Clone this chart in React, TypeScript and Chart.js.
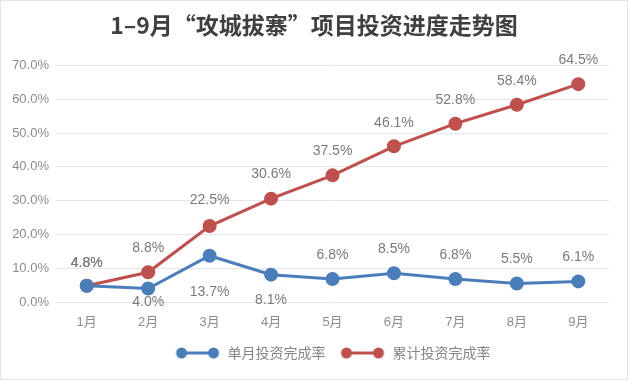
import React, { useEffect, useRef } from 'react';
import { Chart, registerables } from 'chart.js';

Chart.register(...registerables);

const months = ['1月', '2月', '3月', '4月', '5月', '6月', '7月', '8月', '9月'];
const monthlyRate = [4.8, 4.0, 13.7, 8.1, 6.8, 8.5, 6.8, 5.5, 6.1];
const cumulativeRate = [4.8, 8.8, 22.5, 30.6, 37.5, 46.1, 52.8, 58.4, 64.5];
const seriesNames = ['单月投资完成率', '累计投资完成率'];
const titleText = '1–9月“攻城拔寨”项目投资进度走势图';
const yMin = 0;
const yMax = 70;
const yStep = 10;

// label vertical offsets (style): negative = above point, positive = below
const monthlyLabelOffset = [-23, 14, 36, 25, -24, -24, -24, -24, -24];
const cumulativeLabelOffset = [-23, -24, -26, -25, -24, -23, -24, -24, -24];

const BLUE = '#4a7ebb';
const RED = '#c0504d';
const NUM_FONT = "'Liberation Sans Narrow', 'Liberation Sans', Arial, 'Noto Sans CJK SC', sans-serif";
const CJK_FONT = "'Noto Sans CJK SC', sans-serif";

function legendImage(color: string) {
  const c = document.createElement('canvas');
  c.width = 46;
  c.height = 14;
  const ctx = c.getContext('2d')!;
  ctx.strokeStyle = color;
  ctx.lineWidth = 3;
  ctx.beginPath();
  ctx.moveTo(7, 7);
  ctx.lineTo(39, 7);
  ctx.stroke();
  ctx.fillStyle = color;
  [7, 39].forEach((x) => {
    ctx.beginPath();
    ctx.arc(x, 7, 5.5, 0, Math.PI * 2);
    ctx.fill();
  });
  return c;
}

const labelPlugin = {
  id: 'valueLabels',
  afterDatasetsDraw(chart: any) {
    const ctx = chart.ctx;
    const offsets = [monthlyLabelOffset, cumulativeLabelOffset];
    ctx.save();
    ctx.font = "14px 'Liberation Sans', Arial, sans-serif";
    ctx.fillStyle = '#7a7a7a';
    ctx.textAlign = 'center';
    ctx.textBaseline = 'middle';
    chart.data.datasets.forEach((ds: any, di: number) => {
      const meta = chart.getDatasetMeta(di);
      meta.data.forEach((pt: any, i: number) => {
        const v = ds.data[i] as number;
        ctx.fillText(v.toFixed(1) + '%', pt.x, pt.y + offsets[di][i]);
      });
    });
    ctx.restore();
  },
};

const framePlugin = {
  id: 'frame',
  afterLayout(chart: any) {
    // nudge the title so it is centred on the full canvas like the reference
    if (chart.titleBlock) {
      chart.titleBlock.left += 9.5;
      chart.titleBlock.right += 9.5;
    }
  },
  beforeDraw(chart: any) {
    const ctx = chart.ctx;
    ctx.save();
    ctx.fillStyle = '#ffffff';
    ctx.fillRect(0, 0, chart.width, chart.height);
    ctx.strokeStyle = '#e4e4e4';
    ctx.lineWidth = 1;
    ctx.strokeRect(0.5, 0.5, chart.width - 1, chart.height - 1);
    ctx.restore();
  },
};

export default function App() {
  const ref = useRef<HTMLCanvasElement>(null);
  useEffect(() => {
    document.body.style.margin = '0';
    const images = [legendImage(BLUE), legendImage(RED)];
    const chart = new Chart(ref.current!, {
      type: 'line',
      data: {
        labels: months,
        datasets: [
          {
            label: seriesNames[0],
            data: monthlyRate,
            borderColor: BLUE,
            backgroundColor: BLUE,
            borderWidth: 3,
            pointRadius: 5.5,
            pointHoverRadius: 5.5,
            pointBackgroundColor: BLUE,
            pointBorderColor: BLUE,
            tension: 0,
          },
          {
            label: seriesNames[1],
            data: cumulativeRate,
            borderColor: RED,
            backgroundColor: RED,
            borderWidth: 3,
            pointRadius: 5.5,
            pointHoverRadius: 5.5,
            pointBackgroundColor: RED,
            pointBorderColor: RED,
            tension: 0,
          },
        ],
      },
      options: {
        responsive: false,
        animation: false,
        layout: { padding: { left: 0, right: 19, top: 0, bottom: 10 } },
        plugins: {
          title: {
            display: true,
            text: titleText,
            color: '#404040',
            font: { family: CJK_FONT, size: 23, weight: 'bold' },
            padding: { top: 11, bottom: 27 },
          },
          legend: {
            display: true,
            position: 'bottom',
            fullSize: false,
            labels: {
              usePointStyle: true,
              pointStyleWidth: 46,
              boxHeight: 14,
              color: '#858585',
              font: { family: CJK_FONT, size: 14 },
              padding: 14,
              generateLabels(chart: any) {
                const items = Chart.defaults.plugins.legend.labels.generateLabels(chart);
                return items.map((it: any, i: number) => ({ ...it, pointStyle: images[i] }));
              },
            },
          },
          tooltip: { enabled: false },
        },
        scales: {
          x: {
            offset: true,
            grid: { display: false },
            border: { display: false },
            ticks: {
              color: '#8c8c8c',
              font: { family: NUM_FONT, size: 13 },
              padding: 5,
            },
            afterFit(scale: any) {
              scale.height = 30;
            },
          },
          y: {
            min: yMin,
            max: yMax,
            border: { display: false },
            grid: { color: '#e6e6e6', drawTicks: false },
            ticks: {
              stepSize: yStep,
              color: '#8c8c8c',
              font: { family: NUM_FONT, size: 13 },
              padding: 7,
              callback: (v: any) => Number(v).toFixed(1) + '%',
            },
            afterFit(scale: any) {
              scale.width = 56;
            },
          },
        },
      },
      plugins: [framePlugin, labelPlugin],
    });
    return () => chart.destroy();
  }, []);
  return (
    <div style={{ width: 628, height: 380 }}>
      <canvas ref={ref} width={628} height={380} />
    </div>
  );
}
